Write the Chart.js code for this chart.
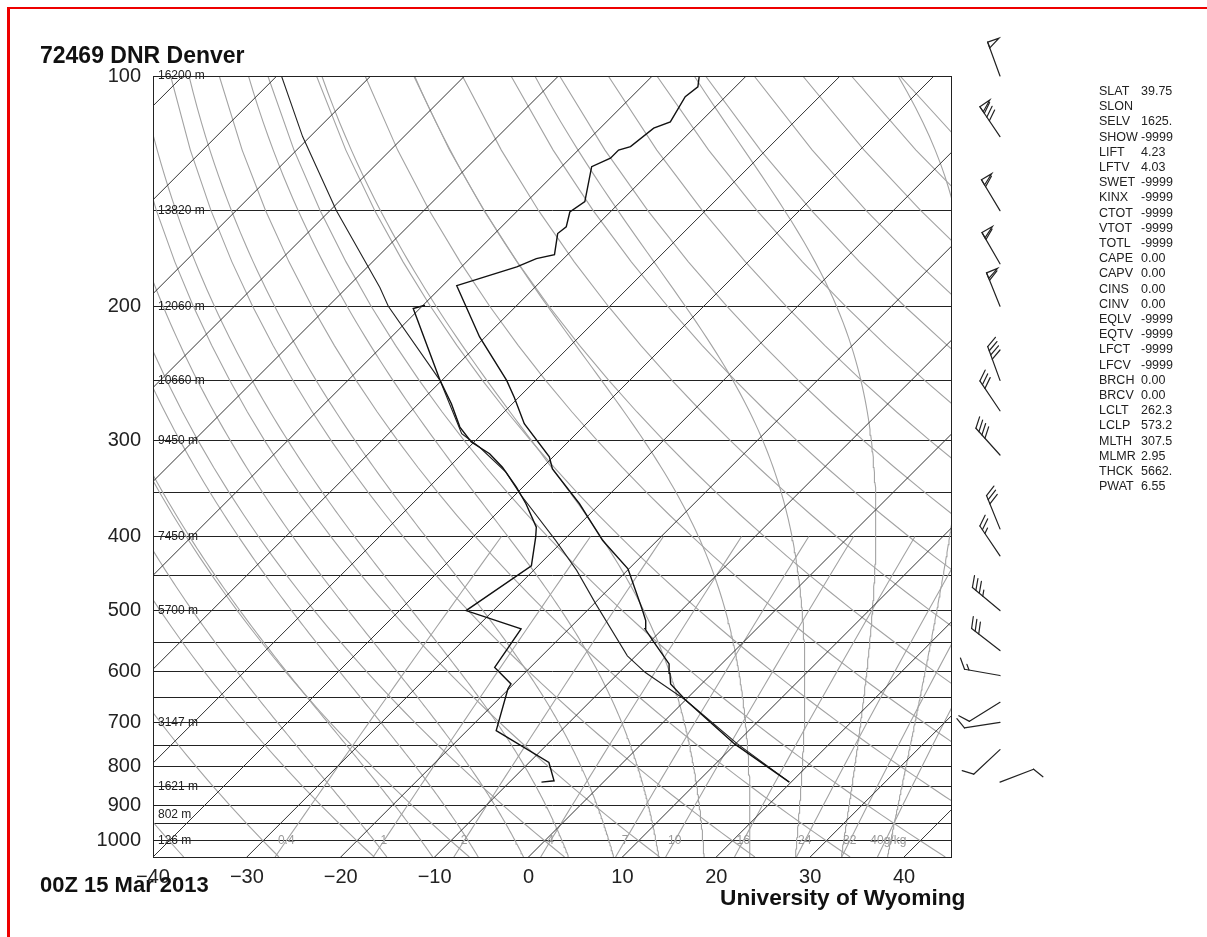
<!DOCTYPE html>
<html><head><meta charset="utf-8">
<script src="https://cdn.jsdelivr.net/npm/chart.js@4.4.1/dist/chart.umd.min.js"></script>
<style>
html,body{margin:0;padding:0;background:#fff;}
#wrap{position:relative;width:1207px;height:937px;overflow:hidden;font-family:"Liberation Sans",Arial,sans-serif;background:#fff}
#frame{position:absolute;left:7px;top:7px;width:1220px;height:950px;border-top:2px solid #e00;border-left:3px solid #e00;}
canvas{position:absolute;left:0;top:0}
.t{position:absolute;font-weight:bold;color:#111;white-space:nowrap;line-height:1}
#idx{position:absolute;left:1099px;top:84px;font-size:12.5px;line-height:15.2px;color:#222;white-space:nowrap}
#idx .k{display:inline-block;min-width:39px;margin-right:3px}
</style></head>
<body><div id="wrap">
<div id="frame"></div>
<canvas id="c" width="1207" height="937"></canvas>
<div class="t" style="left:40px;top:44px;font-size:23px">72469 DNR Denver</div>
<div class="t" style="left:40px;top:874px;font-size:22px">00Z 15 Mar 2013</div>
<div class="t" style="left:720px;top:886px;font-size:22.7px">University of Wyoming</div>
<div id="idx"></div>
</div>
<script>
// ---- sounding data ----
const tempP = [838, 747, 654.5, 623.6, 604, 587, 547.4, 528.2, 515.3, 500, 441, 405, 362.5, 326.3, 314.8, 284.9, 263, 250, 219.4, 188, 177.7, 173.3, 171.2, 160.7, 157.5, 150.6, 146, 131.4, 128.1, 125, 123.7, 117, 114.8, 106.4, 103.3, 100];
const tempT = [19.8, 9.9, 0.0, -3.3, -4.5, -5.6, -9.8, -11.9, -12.7, -14.1, -20.1, -25.8, -32.2, -38.8, -40.4, -46.6, -50.5, -53.1, -60.6, -68.5, -64.1, -62.9, -61.4, -63.3, -63.1, -64.3, -63.8, -66.8, -65.7, -65.7, -64.8, -64.3, -63.2, -64.3, -64.0, -65.0];
const dewP = [838, 834.7, 789.9, 717.8, 633.1, 623.6, 593.3, 528.2, 500, 437.1, 400.9, 389, 362.5, 344.7, 324.7, 311.8, 301, 287.8, 268.2, 250, 201.4, 199.4];
const dewT = [-6.6, -5.4, -7.9, -16.9, -20.1, -20.3, -23.8, -25.1, -32.9, -30.7, -33.3, -34.3, -37.9, -40.7, -44.3, -47.1, -50.3, -53.1, -56.5, -60.2, -70.7, -69.8];
const parcelP = [838, 747, 654.5, 602.6, 573, 490, 443, 405, 351.8, 329.6, 305.6, 293.6, 268.2, 250, 200, 189, 150, 120, 100];
const parcelT = [19.8, 10.2, 0.0, -7.2, -10.9, -19.8, -25.4, -30.8, -39.6, -43.4, -48.9, -52.2, -56.7, -60.2, -73.6, -76.5, -89.3, -100.8, -109.5];
const windP = [100, 120, 150, 176, 200, 250, 274, 313, 391, 424, 500, 564, 608, 659, 700, 760, 838];
const windDir = [340, 326, 329, 330, 338, 340, 326, 318, 338, 326, 310, 308, 280, 238, 261, 227, 69];
const windSpd = [50, 80, 60, 60, 60, 40, 30, 40, 30, 25, 35, 30, 15, 10, 10, 10, 10];
// ---- diagram labels ----
const xTicks = [-40, -30, -20, -10, 0, 10, 20, 30, 40];
const isobars = [100,150,200,250,300,350,400,450,500,550,600,650,700,750,800,850,900,950,1000];
const pLabels = [100,200,300,400,500,600,700,800,900,1000];
const heightP = [100, 150, 200, 250, 300, 400, 500, 700, 850, 925, 1000];
const heightTxt = ["16200 m","13820 m","12060 m","10660 m","9450 m","7450 m","5700 m","3147 m","1621 m","802 m","126 m"];
const mixW = [0.4, 1, 2, 4, 7, 10, 16, 24, 32, 40];
const mixTxt = ["0.4","1","2","4","7","10","16","24","32","40g/kg"];
const isoT = [-120,-110,-100,-90,-80,-70,-60,-50,-40,-30,-20,-10,0,10,20,30,40];
const dryThetaC = [-40,-30,-20,-10,0,10,20,30,40,50,60,70,80,90,100,110,120,130,140,150,160,170];
const moistThetaW = [255,260,265,270,275,280,285,290,295,300,305,310];
const idxKeys = ["SLAT","SLON","SELV","SHOW","LIFT","LFTV","SWET","KINX","CTOT","VTOT","TOTL","CAPE","CAPV","CINS","CINV","EQLV","EQTV","LFCT","LFCV","BRCH","BRCV","LCLT","LCLP","MLTH","MLMR","THCK","PWAT"];
const idxVals = ["39.75","","1625.","-9999","4.23","4.03","-9999","-9999","-9999","-9999","-9999","0.00","0.00","0.00","0.00","-9999","-9999","-9999","-9999","0.00","0.00","262.3","573.2","307.5","2.95","5662.","6.55"];

document.getElementById('idx').innerHTML = idxKeys.map((k,i)=>'<div><span class="k">'+k+'</span>'+idxVals[i]+'</div>').join('');

// ---- skew-T geometry ----
const PBOT = 1050, PTOP = 100;
const SKEW = 81.46; // degrees per decade of pressure (45 degree isotherms)
const sx = (T, p) => T + SKEW * Math.log10(PBOT / p);
const pGrid = []; for (let p = PBOT; p >= PTOP; p -= 25) pGrid.push(p);

const ds = [];
const line = (pts, color, w) => ds.push({data: pts, borderColor: color, borderWidth: w, showLine: true, pointRadius: 0, tension: 0, fill: false});
// data first (drawn on top)
line(tempP.map((p,i)=>({x:sx(tempT[i],p), y:p})), '#111', 1.4);
line(dewP.map((p,i)=>({x:sx(dewT[i],p), y:p})), '#111', 1.4);
line(parcelP.map((p,i)=>({x:sx(parcelT[i],p), y:p})), '#222', 1.1);
// isotherms
isoT.forEach(T => line([{x:sx(T,PBOT),y:PBOT},{x:sx(T,PTOP),y:PTOP}], '#333', 1));
// dry adiabats
dryThetaC.forEach(th => line(pGrid.map(p => ({x: sx((th+273.15)*Math.pow(p/1000,0.2857)-273.15, p), y: p})), '#a3a3a3', 1.1));
// moist adiabats (pseudo-adiabatic integration)
const es = T => 6.112*Math.exp(17.67*(T-273.15)/(T-29.65));
const dTdp = (T,p) => { const e=es(T), rs=0.622*e/(p-e), Lv=2.501e6, Rd=287.04, Cp=1005.7;
  return (Rd*T + Lv*rs)/(p*(Cp + Lv*Lv*rs*0.622/(Rd*T*T))); };
moistThetaW.forEach(tw => {
  const pts=[]; let T=tw, p=1000;
  const down=[]; let Td=tw; for (let q=1000; q<PBOT; q+=5){ Td += dTdp(Td,q+2.5)*5; down.push({x:sx(Td-273.15,q+5),y:q+5}); }
  down.reverse().forEach(d=>pts.push(d));
  pts.push({x:sx(T-273.15,p),y:p});
  while (p > PTOP) { const h=-5; const k1=dTdp(T,p); const k2=dTdp(T+k1*h/2,p+h/2); T += k2*h; p += h; pts.push({x:sx(T-273.15,p),y:p}); }
  line(pts, '#a3a3a3', 1.1);
});
// mixing ratio lines
const tdOf = (w,p) => { const e=w*p/(622+w); const l=Math.log(e/6.112); return 243.5*l/(17.67-l); };
mixW.forEach(w => { const pts=[]; for (let p=PBOT; p>=400; p-=25) pts.push({x:sx(tdOf(w,p),p),y:p}); line(pts,'#a3a3a3',1.1); });

const overlay = {
  id:'overlay',
  afterDatasetsDraw(chart){
    const {ctx, chartArea:a, scales:{x,y}} = chart;
    ctx.save();
    ctx.strokeStyle='#222'; ctx.lineWidth=1;
    ctx.strokeRect(a.left+0.5, a.top+0.5, a.right-a.left, a.bottom-a.top);
    // height labels
    ctx.font='12px "Liberation Sans", Arial, sans-serif'; ctx.fillStyle='#222'; ctx.textBaseline='middle'; ctx.textAlign='left';
    heightP.forEach((p,i)=>ctx.fillText(heightTxt[i], a.left+5, y.getPixelForValue(p)));
    // mixing ratio labels
    ctx.fillStyle='#999'; ctx.textAlign='center';
    mixW.forEach((w,i)=>{ const px = x.getPixelForValue(sx(tdOf(w,1000),1000)); ctx.fillText(mixTxt[i], mixTxt[i].length>3? px+3: px, y.getPixelForValue(1000)); });
    ctx.restore();
    // wind barbs
    ctx.save(); ctx.strokeStyle='#222'; ctx.fillStyle='#222'; ctx.lineWidth=1.2; ctx.lineCap='round';
    const bx = a.right + 49;
    windP.forEach((p,i)=>drawBarb(ctx, bx, y.getPixelForValue(p), windDir[i], windSpd[i]));
    ctx.restore();
  }
};
function drawBarb(ctx,bx,by,dir,spd){
  const r=dir*Math.PI/180, ux=Math.sin(r), uy=-Math.cos(r);
  const r2=(dir+90)*Math.PI/180, px=Math.sin(r2), py=-Math.cos(r2);
  const L=36, F=12, st=4.5, cs=0.866, sn=0.5;
  const fx=(px*cs+ux*sn)*F, fy=(py*cs+uy*sn)*F;
  const tx=bx+ux*L, ty=by+uy*L;
  ctx.beginPath(); ctx.moveTo(bx,by); ctx.lineTo(tx,ty); ctx.stroke();
  let s=Math.round(spd/5)*5; const nP=Math.floor(s/50); s-=nP*50; const nF=Math.floor(s/10); s-=nF*10; const nH=s>=5?1:0;
  let pos=0;
  const at = d => [tx-ux*d, ty-uy*d];
  for (let k=0;k<nP;k++){ const [ax,ay]=at(pos), [cx,cy]=at(pos+6);
    ctx.beginPath(); ctx.moveTo(ax,ay); ctx.lineTo(ax+px*F, ay+py*F); ctx.lineTo(cx,cy); ctx.closePath(); ctx.stroke(); pos+=7; }
  if (nP>0) pos+=1;
  for (let k=0;k<nF;k++){ const [ax,ay]=at(pos); ctx.beginPath(); ctx.moveTo(ax,ay); ctx.lineTo(ax+fx, ay+fy); ctx.stroke(); pos+=st; }
  if (nH){ if(nP+nF===0) pos+=st; const [ax,ay]=at(pos); ctx.beginPath(); ctx.moveTo(ax,ay); ctx.lineTo(ax+fx/2, ay+fy/2); ctx.stroke(); }
}

Chart.defaults.font.family = '"Liberation Sans", Arial, sans-serif';
new Chart(document.getElementById('c'), {
  type:'scatter',
  data:{datasets: ds},
  options:{
    responsive:false, animation:false, events:[],
    layout:{padding:{top:76, right:256, bottom:0, left:0}},
    plugins:{legend:{display:false}, tooltip:{enabled:false}},
    scales:{
      x:{type:'linear', min:-40, max:45,
         afterBuildTicks: s => { s.ticks = xTicks.map(v=>({value:v})); },
         afterFit: s => { s.height = 80; },
         grid:{display:false, drawTicks:false}, border:{display:true, color:'#222'},
         ticks:{autoSkip:false, maxRotation:0, padding:8, color:'#222', font:{size:20},
           callback: v => v<0 ? '\u2212'+Math.abs(v) : String(v)}},
      y:{type:'logarithmic', reverse:true, min:PTOP, max:PBOT,
         afterBuildTicks: s => { s.ticks = isobars.map(v=>({value:v})); },
         afterFit: s => { s.width = 153; },
         grid:{color:'#222', lineWidth:1, drawTicks:false}, border:{display:true, color:'#222'},
         ticks:{autoSkip:false, padding:12, color:'#222', font:{size:20},
           callback: v => pLabels.includes(v) ? String(v) : ''}}
    }
  },
  plugins:[overlay]
});
</script>
</body></html>
